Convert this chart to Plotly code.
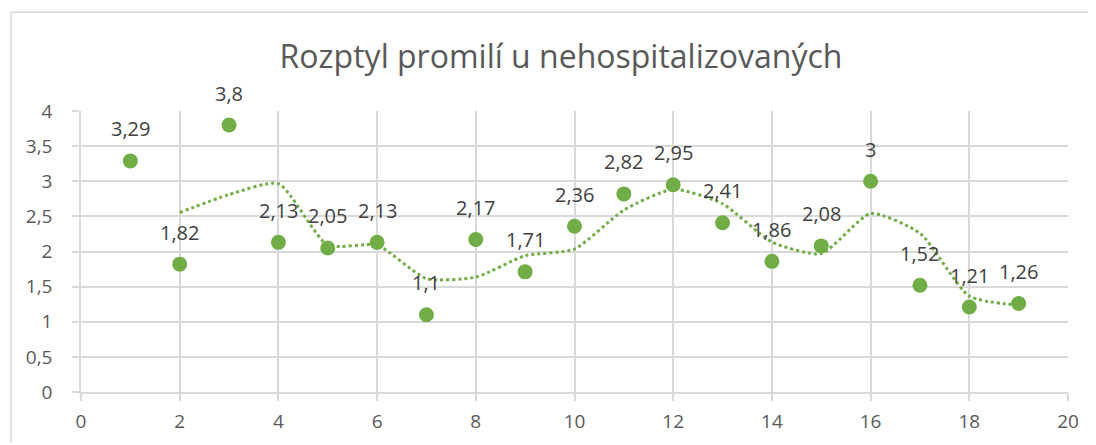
import plotly.graph_objects as go
import pandas as pd

# Data
x_vals = list(range(1, 20))
y_vals = [3.29, 1.82, 3.8, 2.13, 2.05, 2.13, 1.1, 2.17, 1.71, 2.36,
          2.82, 2.95, 2.41, 1.86, 2.08, 3.0, 1.52, 1.21, 1.26]
title_text = "Rozptyl promilí u nehospitalizovaných"

GREEN = "#70AD47"
GRID = "#D9D9D9"
FONT = "Open Sans"

# 2-period moving average trendline (as in the original spreadsheet chart)
ma = pd.Series(y_vals).rolling(2).mean()
ma_x = [x for x, v in zip(x_vals, ma) if pd.notna(v)]
ma_y = [v for v in ma if pd.notna(v)]

fig = go.Figure()
fig.add_trace(go.Scatter(
    x=ma_x, y=ma_y, mode="lines",
    line=dict(color=GREEN, width=3, dash="dot", shape="spline", smoothing=0.6),
    hoverinfo="skip", showlegend=False,
))
fig.add_trace(go.Scatter(
    x=x_vals, y=y_vals, mode="markers",
    marker=dict(color=GREEN, size=15, line=dict(width=0)),
    showlegend=False,
))

def fmt(v):
    return ("%g" % v).replace(".", ",")

for x, y in zip(x_vals, y_vals):
    fig.add_annotation(x=x, y=y, text=fmt(y), showarrow=False,
                       yshift=32, yanchor="middle", xanchor="center",
                       font=dict(family=FONT, size=20, color="#404040"))

# chart border (top and left edges visible in the reference)
border = dict(color="#D9D9D9", width=1.5)
fig.add_shape(type="line", xref="paper", yref="paper",
              x0=-0.0709, x1=1.025, y0=1.351, y1=1.351, line=border, layer="below")
fig.add_shape(type="line", xref="paper", yref="paper",
              x0=-0.0709, x1=-0.0709, y0=-0.18, y1=1.351, line=border, layer="below")

fig.update_layout(
    width=1088, height=437, autosize=False,
    margin=dict(l=73, r=28, t=103, b=53),
    paper_bgcolor="white", plot_bgcolor="white",
    separators=", ",
    title=dict(text=title_text, x=553/1088, xanchor="center",
               y=1 - 49/437, yanchor="middle",
               font=dict(family=FONT, size=32, color="#595959")),
    font=dict(family=FONT, color="#595959"),
    xaxis=dict(range=[0, 20], dtick=2, tick0=0, showgrid=True, gridcolor=GRID,
               gridwidth=1.5, zeroline=False, showline=True, linecolor=GRID,
               linewidth=1.5, ticks="outside", ticklen=7, tickcolor=GRID,
               tickwidth=1.5, tickfont=dict(family=FONT, size=19, color="#595959"),
               ticklabelstandoff=4, fixedrange=True),
    yaxis=dict(range=[0, 4], dtick=0.5, tick0=0, showgrid=True, gridcolor=GRID,
               gridwidth=1.5, zeroline=False, showline=True, linecolor=GRID,
               linewidth=1.5, ticks="outside", ticklen=7, tickcolor=GRID,
               tickwidth=1.5, tickfont=dict(family=FONT, size=19, color="#595959"),
               ticklabelstandoff=16, fixedrange=True),
)

fig.write_html(
    "out.html",
    config={"displayModeBar": False},
    post_script="document.documentElement.style.overflow='hidden';"
                "document.body.style.overflow='hidden';",
)
